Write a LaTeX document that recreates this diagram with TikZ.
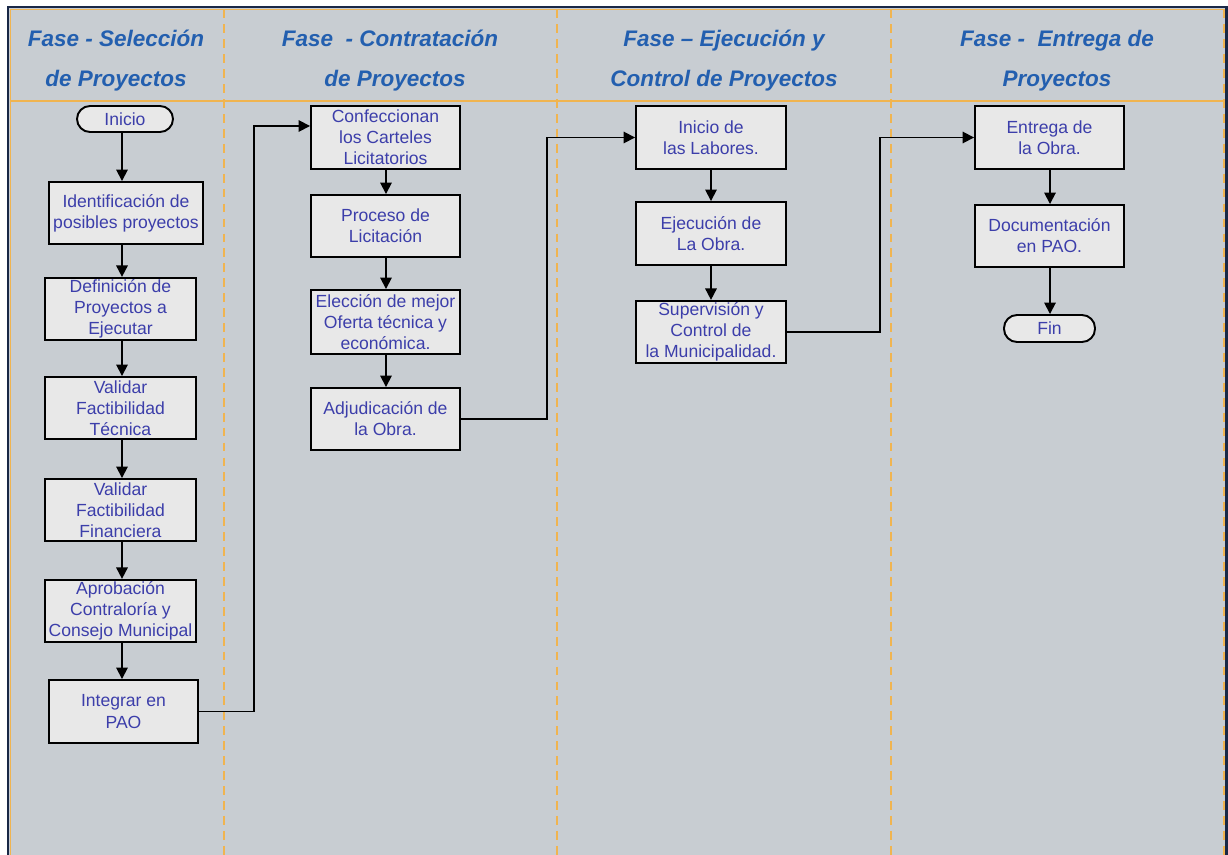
\documentclass[tikz,border=0pt]{standalone}
\usepackage{fontspec}
\setmainfont{Liberation Sans}
\usetikzlibrary{arrows.meta,calc}
\definecolor{lanebg}{RGB}{200,205,210}
\definecolor{boxfill}{RGB}{232,232,232}
\definecolor{headblue}{RGB}{35,95,175}
\definecolor{textblue}{RGB}{60,62,170}
\definecolor{laneorange}{RGB}{240,180,80}
\definecolor{framenavy}{RGB}{25,40,70}
\tikzset{
  stepbox/.style={draw=black, line width=1.1pt, fill=boxfill, text=textblue,
    align=center, inner sep=1pt,
    font=\fontsize{10}{12}\selectfont},
  term/.style={stepbox, rounded corners=0.26cm},
  head/.style={text=headblue, font=\fontsize{12.8}{15}\selectfont\bfseries\itshape, anchor=base},
  flow/.style={line width=1pt, -{Triangle[length=6.5pt,width=6.5pt]}},
  divider/.style={draw=laneorange, line width=1.2pt, dash pattern=on 5pt off 3.5pt},
}
\begin{document}
\begin{tikzpicture}[x=0.02cm,y=-0.02cm]
\useasboundingbox (0,0) rectangle (1228,855);
% lanes background and frame
\fill[white] (0,0) rectangle (1228,855);
\fill[lanebg] (9,8) rectangle (1226,855);
\draw[framenavy, line width=1.2pt] (8,855) -- (8,7) -- (1226.5,7) -- (1226.5,855);
\draw[laneorange, line width=1pt] (10.5,855) -- (10.5,9.5) -- (1224,9.5);
\draw[laneorange, line width=1.2pt] (10.5,101) -- (1224,101);
\foreach \xx in {224,557,891,1224}
  \draw[divider] (\xx,9.5) -- (\xx,855);

% lane headings
\node[head] (h1a) at (116,47) {Fase - Selección};
\node[head] (h1b) at (116,87) {de Proyectos};
\node[head] (h2a) at (390,47) {Fase \ - Contratación};
\node[head] (h2b) at (395,87) {de Proyectos};
\node[head] (h3a) at (724,47) {Fase – Ejecución y};
\node[head] (h3b) at (724,87) {Control de Proyectos};
\node[head] (h4a) at (1057,47) {Fase - \ Entrega de};
\node[head] (h4b) at (1057,87) {Proyectos};

% vertical axes of the flow in each lane
\coordinate (ax1) at (122,0);
\coordinate (ax2) at (386,0);
\coordinate (ax3) at (711,0);
\coordinate (ax4) at (1050,0);

% lane 1: selection
\node[term, minimum width=1.92cm, minimum height=0.52cm] (ini) at (125,119) {Inicio};
\node[stepbox, minimum width=3.08cm, minimum height=1.24cm] (ident) at (126,213) {Identificación de\\posibles proyectos};
\node[stepbox, minimum width=3.02cm, minimum height=1.24cm] (defin) at (120.5,309) {Definición de\\Proyectos a\\Ejecutar};
\node[stepbox, minimum width=3.02cm, minimum height=1.24cm] (vtec) at (120.5,408) {Validar\\Factibilidad\\Técnica};
\node[stepbox, minimum width=3.02cm, minimum height=1.24cm] (vfin) at (120.5,510) {Validar\\Factibilidad\\Financiera};
\node[stepbox, minimum width=3.02cm, minimum height=1.24cm] (aprob) at (120.5,611) {Aprobación\\Contraloría y\\Consejo Municipal};
\node[stepbox, minimum width=2.98cm, minimum height=1.26cm] (integ) at (123.5,711.5) {Integrar en\\PAO};

% lane 2: contracting
\node[stepbox, minimum width=2.98cm, minimum height=1.26cm] (confec) at (385.5,137.5) {Confeccionan\\los Carteles\\Licitatorios};
\node[stepbox, minimum width=2.98cm, minimum height=1.24cm] (proceso) at (385.5,226) {Proceso de\\Licitación};
\node[stepbox, minimum width=2.98cm, minimum height=1.28cm] (elec) at (385.5,322) {Elección de mejor\\Oferta técnica y\\económica.};
\node[stepbox, minimum width=2.98cm, minimum height=1.24cm] (adjud) at (385.5,419) {Adjudicación de\\la Obra.};

% lane 3: execution and control
\node[stepbox, minimum width=3.0cm, minimum height=1.26cm] (inilab) at (711,137.5) {Inicio de\\las Labores.};
\node[stepbox, minimum width=3.0cm, minimum height=1.26cm] (ejec) at (711,233.5) {Ejecución de\\La Obra.};
\node[stepbox, minimum width=3.0cm, minimum height=1.24cm] (superv) at (711,332) {Supervisión y\\Control de\\la Municipalidad.};

% lane 4: delivery
\node[stepbox, minimum width=2.98cm, minimum height=1.26cm] (entrega) at (1049.5,137.5) {Entrega de\\la Obra.};
\node[stepbox, minimum width=2.98cm, minimum height=1.24cm] (docu) at (1049.5,236) {Documentación\\en PAO.};
\node[term, minimum width=1.82cm, minimum height=0.54cm] (fin) at (1049.5,328.5) {Fin};

% flow within lanes
\foreach \a/\b/\ax in {ini/ident/ax1, ident/defin/ax1, defin/vtec/ax1, vtec/vfin/ax1,
                       vfin/aprob/ax1, aprob/integ/ax1,
                       confec/proceso/ax2, proceso/elec/ax2, elec/adjud/ax2,
                       inilab/ejec/ax3, ejec/superv/ax3,
                       entrega/docu/ax4, docu/fin/ax4}
  \draw[flow] (\a.south -| \ax) -- (\b.north -| \ax);

% flow between lanes
\coordinate (j1) at (254,126);
\coordinate (j2) at (547,137.5);
\coordinate (j3) at (880,137.5);
\draw[flow] (integ.east) -| (j1) -- (j1 -| confec.west);
\draw[flow] (adjud.east) -| (j2) -- (inilab.west);
\draw[flow] (superv.east) -| (j3) -- (entrega.west);
\end{tikzpicture}
\end{document}
